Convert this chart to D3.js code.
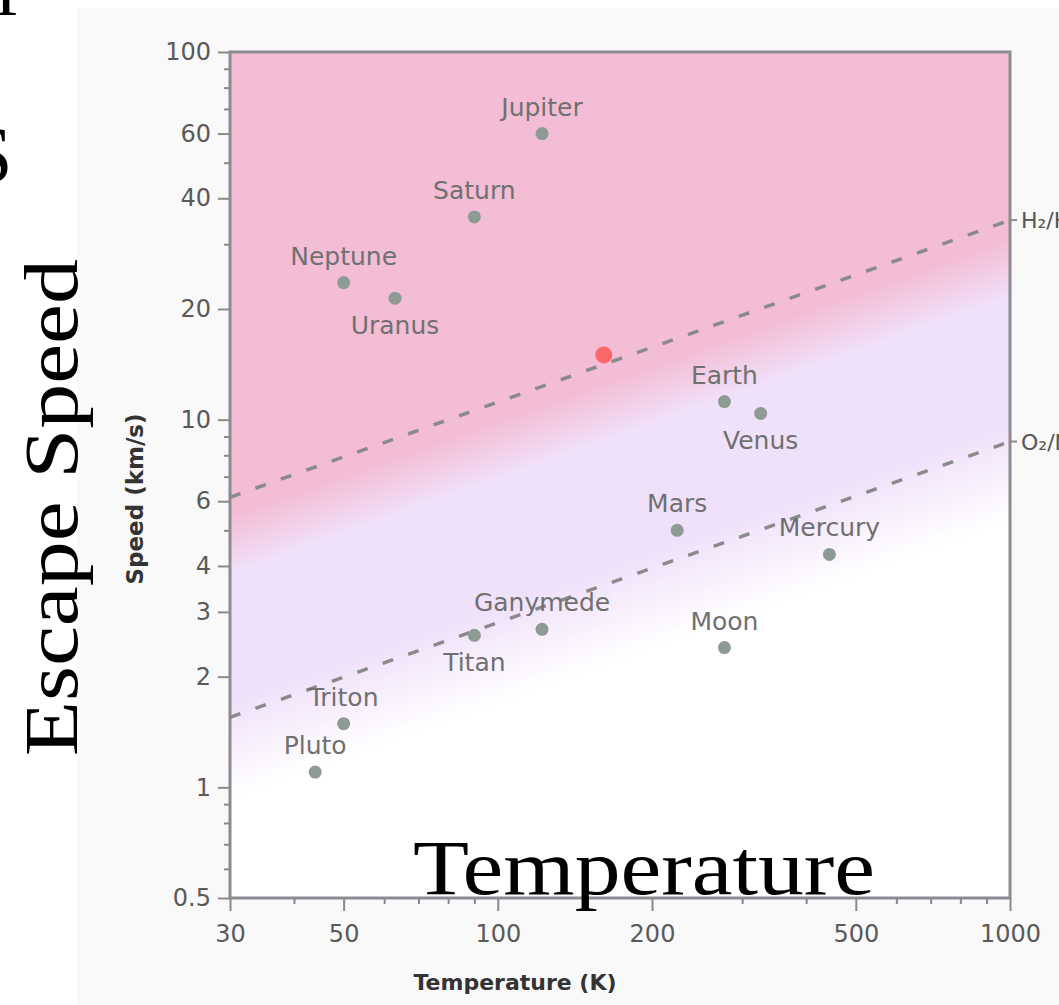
<!DOCTYPE html>
<html>
<head>
<meta charset="utf-8">
<script src="https://cdn.jsdelivr.net/npm/d3@7"></script>
<style>
  body { margin: 0; background: #fff; overflow: hidden; }
</style>
</head>
<body>
<script>
'use strict';
// values
const planets = ["Jupiter", "Saturn", "Neptune", "Uranus", "Earth", "Venus", "Mars",
                 "Mercury", "Moon", "Ganymede", "Titan", "Triton", "Pluto"];
const tempK = [122, 90, 50, 63, 277, 326, 224, 444, 277, 122, 90, 50, 44];
const escapeKms = [60, 35.6, 23.6, 21.4, 11.2, 10.4, 5.0, 4.3, 2.4, 2.69, 2.59, 1.49, 1.1];

// highlighted point
const markT = [161];
const markV = [15];

// gas retention lines (straight in log-log)
const gasNames = ["H₂/He", "O₂/N₂"];
const gasT = [30, 1000];
const h2Speed = [6.15, 34.9];
const o2Speed = [1.55, 8.72];

// axis ticks
const xMajor = [30, 50, 100, 200, 500, 1000];
const xMajorLabels = ["30", "50", "100", "200", "500", "1000"];
const xMinor = [40, 60, 70, 80, 90, 300, 400, 600, 700, 800, 900];
const yMajor = [0.5, 1, 2, 3, 4, 6, 10, 20, 40, 60, 100];
const yMajorLabels = ["0.5", "1", "2", "3", "4", "6", "10", "20", "40", "60", "100"];
const yMinor = [0.6, 0.7, 0.8, 0.9, 5, 7, 8, 9, 30, 50, 70, 80, 90];

(function() {
    const W = 1059, H = 1005;
    const left = 230, right = 1010, top = 52, bottom = 898;
    const labelBelow = new Set(["Uranus", "Venus", "Titan"]);

    const svg = d3.select("body").append("svg")
        .attr("width", W)
        .attr("height", H);

    // light grey page behind the chart
    svg.append("rect")
        .attr("x", 77).attr("y", 8)
        .attr("width", W - 77).attr("height", H - 8)
        .attr("fill", "#f9f9f9");

    const x = d3.scaleLog().domain([30, 1000]).range([left, right]);
    const y = d3.scaleLog().domain([0.5, 100]).range([bottom, top]);

    // background shading follows the H2 line: pink above, lavender, white below
    const hx0 = x(gasT[0]), hy0 = y(h2Speed[0]);
    const slope = (y(h2Speed[1]) - y(h2Speed[0])) / (x(gasT[1]) - x(gasT[0]));
    const span = 300;                       // vertical px covered by the gradient
    const k = span / (1 + slope * slope);
    const defs = svg.append("defs");
    const grad = defs.append("linearGradient")
        .attr("id", "band")
        .attr("gradientUnits", "userSpaceOnUse")
        .attr("x1", hx0).attr("y1", hy0)
        .attr("x2", hx0 - slope * k).attr("y2", hy0 + k);
    [[0, "#f3bdd5"], [18, "#f3bdd5"], [78, "#f0e1fa"], [205, "#f0e1fa"], [300, "#ffffff"]]
        .forEach(s => grad.append("stop")
            .attr("offset", s[0] / span)
            .attr("stop-color", s[1]));

    svg.append("rect")
        .attr("x", left).attr("y", top)
        .attr("width", right - left).attr("height", bottom - top)
        .attr("fill", "url(#band)");

    // frame
    svg.append("rect")
        .attr("x", left).attr("y", top)
        .attr("width", right - left).attr("height", bottom - top)
        .attr("fill", "none")
        .attr("stroke", "#8e8a92")
        .attr("stroke-width", 3);

    // axes: major with labels, minor without
    function styleAxis(g) {
        g.select(".domain").remove();
        g.selectAll(".tick line").attr("stroke", "#8a8a8a").attr("stroke-width", 2);
        g.selectAll(".tick text")
            .attr("fill", "#5a5a5a")
            .style("font-family", "DejaVu Sans")
            .style("font-size", "24px");
    }

    svg.append("g")
        .attr("transform", "translate(0," + bottom + ")")
        .call(d3.axisBottom(x).tickValues(xMajor).tickSize(13).tickPadding(14)
            .tickFormat((d, i) => xMajorLabels[i]))
        .call(styleAxis);
    svg.append("g")
        .attr("transform", "translate(0," + bottom + ")")
        .call(d3.axisBottom(x).tickValues(xMinor).tickSize(6).tickFormat(""))
        .call(styleAxis);

    svg.append("g")
        .attr("transform", "translate(" + left + ",0)")
        .call(d3.axisLeft(y).tickValues(yMajor).tickSize(12).tickPadding(7)
            .tickFormat((d, i) => yMajorLabels[i]))
        .call(styleAxis);
    svg.append("g")
        .attr("transform", "translate(" + left + ",0)")
        .call(d3.axisLeft(y).tickValues(yMinor).tickSize(6).tickFormat(""))
        .call(styleAxis);

    // dashed gas lines
    const line = d3.line()
        .x(d => x(d[0]))
        .y(d => y(d[1]));
    [h2Speed, o2Speed].forEach((sp, gi) => {
        const pts = gasT.map((t, i) => [t, sp[i]]);
        svg.append("path")
            .datum(pts)
            .attr("d", line)
            .attr("fill", "none")
            .attr("stroke", "#8a8a8a")
            .attr("stroke-width", 3.5)
            .attr("stroke-dasharray", "11,16");

        const endY = y(sp[sp.length - 1]);
        svg.append("line")
            .attr("x1", right).attr("x2", right + 7)
            .attr("y1", endY).attr("y2", endY)
            .attr("stroke", "#8a8a8a").attr("stroke-width", 2);
        svg.append("text")
            .attr("x", right + 11)
            .attr("y", endY + 8)
            .attr("fill", "#555")
            .style("font-family", "DejaVu Sans")
            .style("font-size", "22px")
            .text(gasNames[gi]);
    });

    // planets
    const rows = planets.map((p, i) => ({ name: p, t: tempK[i], v: escapeKms[i] }));
    svg.selectAll(".planet")
        .data(rows)
        .enter()
        .append("circle")
            .attr("class", "planet")
            .attr("cx", d => x(d.t))
            .attr("cy", d => y(d.v))
            .attr("r", 6.5)
            .attr("fill", "#8e9a94");

    svg.selectAll(".plabel")
        .data(rows)
        .enter()
        .append("text")
            .attr("class", "plabel")
            .attr("x", d => x(d.t))
            .attr("y", d => y(d.v) + (labelBelow.has(d.name) ? 36 : -18))
            .attr("text-anchor", "middle")
            .attr("fill", "#707070")
            .style("font-family", "DejaVu Sans")
            .style("font-size", "25px")
            .text(d => d.name);

    svg.selectAll(".mark")
        .data(markT.map((t, i) => ({ t: t, v: markV[i] })))
        .enter()
        .append("circle")
            .attr("class", "mark")
            .attr("cx", d => x(d.t))
            .attr("cy", d => y(d.v))
            .attr("r", 8.5)
            .attr("fill", "#fa6868");

    // axis titles
    svg.append("text")
        .attr("x", 515)
        .attr("y", 990)
        .attr("text-anchor", "middle")
        .attr("fill", "#333")
        .style("font-family", "DejaVu Sans")
        .style("font-weight", "bold")
        .style("font-size", "22px")
        .text("Temperature (K)");

    svg.append("text")
        .attr("transform", "translate(143,499)rotate(-90)")
        .attr("text-anchor", "middle")
        .attr("fill", "#333")
        .style("font-family", "DejaVu Sans")
        .style("font-weight", "bold")
        .style("font-size", "23px")
        .text("Speed (km/s)");

    // big serif captions laid over the picture
    const serif = "Liberation Serif, Times New Roman, serif";
    svg.append("text")
        .attr("transform", "translate(77,756)rotate(-90)")
        .attr("textLength", 497)
        .attr("lengthAdjust", "spacingAndGlyphs")
        .style("font-family", serif)
        .style("font-size", "76px")
        .attr("fill", "#000")
        .text("Escape Speed");

    svg.append("text")
        .attr("x", 413)
        .attr("y", 894)
        .attr("textLength", 462)
        .attr("lengthAdjust", "spacingAndGlyphs")
        .style("font-family", serif)
        .style("font-size", "78px")
        .attr("fill", "#000")
        .text("Temperature");

    // fragments of a caption cut off at the top-left corner
    svg.append("text")
        .attr("x", -3).attr("y", -2)
        .style("font-family", serif)
        .style("font-size", "80px")
        .text("p");
    svg.append("text")
        .attr("x", -32).attr("y", 182)
        .style("font-family", serif)
        .style("font-size", "80px")
        .text("S");
})();
</script>
</body>
</html>
